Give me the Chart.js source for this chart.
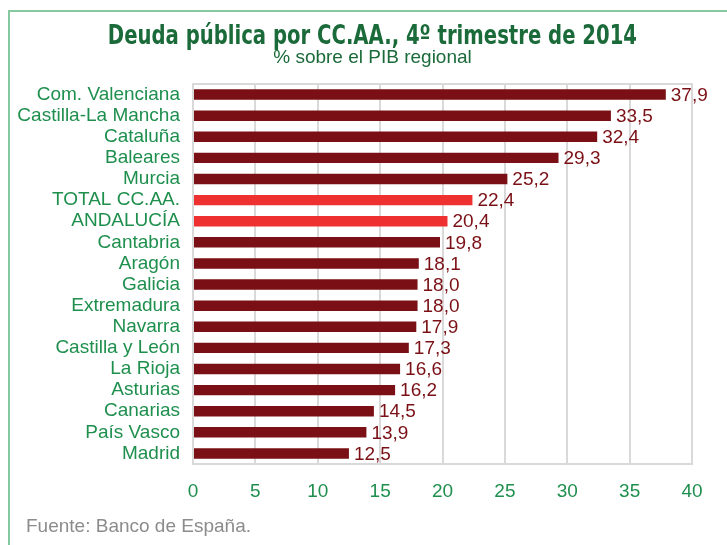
<!DOCTYPE html>
<html>
<head>
<meta charset="utf-8">
<script src="https://cdn.jsdelivr.net/npm/chart.js@4"></script>
<style>
  html, body { margin: 0; padding: 0; background: #fff; overflow: hidden; }
  #wrap { position: relative; width: 727px; height: 545px; }
  #frame { position: absolute; left: 8px; top: 10px; width: 800px; height: 600px;
    border-left: 2px solid #86c9a0; border-top: 2px solid #86c9a0; }
  #title { position: absolute; left: 0; width: 745px; top: 20px; text-align: center;
    font: bold 26px "DejaVu Sans Condensed", "Liberation Sans Narrow", sans-serif; color: #1b6b3a;
    transform: scaleX(0.84); transform-origin: 372px 0; }
  #subtitle { position: absolute; left: 0; width: 745px; top: 46px; text-align: center;
    font: 19px "Liberation Sans", Arial, sans-serif; color: #1b6b3a; }
  #source { position: absolute; left: 26px; top: 515px;
    font: 19px "Liberation Sans", Arial, sans-serif; color: #8c8c8c; }
  canvas { position: absolute; left: 0; top: 0; }
</style>
</head>
<body>
<div id="wrap">
  <div id="frame"></div>
  <canvas id="mainChart" width="727" height="545"></canvas>
  <div id="title">Deuda pública por CC.AA., 4º trimestre de 2014</div>
  <div id="subtitle">% sobre el PIB regional</div>
  <div id="source">Fuente: Banco de España.</div>
</div>
<script>
const regions = ['Com. Valenciana', 'Castilla-La Mancha', 'Cataluña', 'Baleares', 'Murcia',
  'TOTAL CC.AA.', 'ANDALUCÍA', 'Cantabria', 'Aragón', 'Galicia', 'Extremadura', 'Navarra',
  'Castilla y León', 'La Rioja', 'Asturias', 'Canarias', 'País Vasco', 'Madrid'];
const debtPct = [37.9, 33.5, 32.4, 29.3, 25.2, 22.4, 20.4, 19.8, 18.1, 18.0, 18.0, 17.9,
  17.3, 16.6, 16.2, 14.5, 13.9, 12.5];
const highlighted = ['TOTAL CC.AA.', 'ANDALUCÍA'];
const xTicks = [0, 5, 10, 15, 20, 25, 30, 35, 40];

const DARK = '#7a1015';
const RED = '#ee3130';
const GREEN = '#1f8f4e';
const FONT = '"Liberation Sans", Arial, sans-serif';

const valueLabels = {
  id: 'valueLabels',
  afterDatasetsDraw(chart) {
    const c = chart.ctx;
    const meta = chart.getDatasetMeta(0);
    c.save();
    c.font = '19px ' + FONT;
    c.fillStyle = DARK;
    c.textAlign = 'left';
    c.textBaseline = 'middle';
    meta.data.forEach((bar, i) => {
      c.fillText(debtPct[i].toFixed(1).replace('.', ','), bar.x + 5, bar.y + 1);
    });
    c.restore();
  }
};

const plotBox = {
  id: 'plotBox',
  beforeDatasetsDraw(chart) {
    const a = chart.chartArea;
    const c = chart.ctx;
    c.save();
    c.strokeStyle = '#d9d9d9';
    c.lineWidth = 2;
    c.strokeRect(a.left, a.top, a.right - a.left, a.bottom - a.top);
    c.restore();
  }
};

new Chart(document.getElementById('mainChart'), {
  type: 'bar',
  data: {
    labels: regions,
    datasets: [{
      data: debtPct,
      backgroundColor: regions.map((r) => highlighted.includes(r) ? RED : DARK),
      barPercentage: 0.95,
      categoryPercentage: 0.52,
    }],
  },
  options: {
    indexAxis: 'y',
    responsive: false,
    animation: false,
    layout: { padding: { top: 84, left: 0, right: 35, bottom: 41 } },
    plugins: { legend: { display: false }, tooltip: { enabled: false } },
    scales: {
      x: {
        min: 0, max: 40,
        afterBuildTicks: (s) => { s.ticks = xTicks.map((v) => ({ value: v })); },
        afterFit: (s) => { s.height = 40; },
        grid: { color: '#d9d9d9', lineWidth: 2, drawTicks: false },
        border: { display: false },
        ticks: { color: GREEN, padding: 16, font: { size: 19, family: FONT } },
      },
      y: {
        afterFit: (s) => { s.width = 193; },
        grid: { display: false, drawTicks: false },
        border: { display: false },
        ticks: { color: GREEN, padding: 13, autoSkip: false, font: { size: 19, family: FONT } },
      },
    },
  },
  plugins: [plotBox, valueLabels],
});
</script>
</body>
</html>
